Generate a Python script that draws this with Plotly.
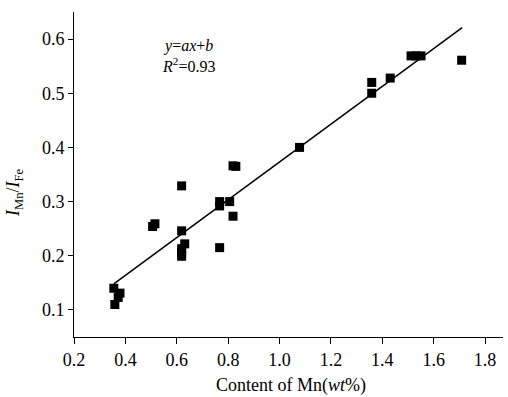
import plotly.graph_objects as go

# Data
mn_content = [0.355, 0.379, 0.372, 0.359,
              0.506, 0.515,
              0.619, 0.619, 0.631, 0.619, 0.619, 0.619,
              0.767, 0.767, 0.767, 0.806, 0.819,
              0.819, 0.830,
              1.078,
              1.359, 1.359, 1.431,
              1.512, 1.532, 1.551,
              1.709]
intensity_ratio = [0.140, 0.131, 0.123, 0.110,
                   0.254, 0.259,
                   0.329, 0.246, 0.222, 0.213, 0.206, 0.199,
                   0.300, 0.292, 0.215, 0.300, 0.273,
                   0.366, 0.365,
                   0.400,
                   0.520, 0.500, 0.528,
                   0.569, 0.569, 0.569,
                   0.561]

# Fitted line y = a*x + b, drawn over the data span
fit_a = 0.349
fit_b = 0.024
fit_x = [0.355, 1.711]
fit_y = [fit_a * v + fit_b for v in fit_x]

x_ticks = [0.2, 0.4, 0.6, 0.8, 1.0, 1.2, 1.4, 1.6, 1.8]
y_ticks = [0.1, 0.2, 0.3, 0.4, 0.5, 0.6]

FONT = "Liberation Serif, Times New Roman, serif"

W, H = 508, 397
ML, MR, MT, MB = 74, 5, 12, 60
PW, PH = W - ML - MR, H - MT - MB


def px_to_paper(px, py):
    return (px - ML) / PW, (H - MB - py) / PH


fig = go.Figure()
fig.add_trace(go.Scatter(x=fit_x, y=fit_y, mode="lines",
                         line=dict(color="black", width=1.5),
                         showlegend=False, hoverinfo="skip"))
fig.add_trace(go.Scatter(x=mn_content, y=intensity_ratio, mode="markers",
                         marker=dict(symbol="square", size=9, color="black"),
                         showlegend=False))

ytx, yty = px_to_paper(14, 192)
xtx, xty = px_to_paper(291, 385)
eqx, eqy = px_to_paper(188, 56)

fig.update_layout(
    width=W, height=H,
    margin=dict(l=ML, r=MR, t=MT, b=MB),
    paper_bgcolor="white", plot_bgcolor="white",
    font=dict(family=FONT, size=18, color="black"),
    xaxis=dict(range=[0.2, 1.87], tickvals=x_ticks,
               ticktext=[f"{v:.1f}" for v in x_ticks],
               showline=True, linecolor="black", linewidth=1,
               ticks="outside", ticklen=6, tickcolor="black",
               tickfont=dict(size=18),
               showgrid=False, zeroline=False),
    yaxis=dict(range=[0.05, 0.65], tickvals=y_ticks,
               ticktext=[f"{v:.1f}" for v in y_ticks],
               showline=True, linecolor="black", linewidth=1,
               ticks="outside", ticklen=5, tickcolor="black",
               tickfont=dict(size=18),
               showgrid=False, zeroline=False),
    annotations=[
        dict(x=ytx, y=yty, xref="paper", yref="paper", showarrow=False,
             text="<i>I</i><sub>Mn</sub>/<i>I</i><sub>Fe</sub>",
             textangle=-90, font=dict(size=18), xanchor="center",
             yanchor="middle"),
        dict(x=xtx, y=xty, xref="paper", yref="paper", showarrow=False,
             text="Content of Mn(<i>wt</i>%)", font=dict(size=18),
             xanchor="center", yanchor="middle"),
        dict(x=eqx, y=eqy, xref="paper", yref="paper", showarrow=False,
             text="<i>y</i>=<i>ax</i>+<i>b</i><br><i>R</i><sup>2</sup>=0.93",
             align="center", font=dict(size=16),
             xanchor="center", yanchor="middle"),
    ],
)

fig.write_html("out.html",
               config={"displayModeBar": False},
               post_script="document.body.style.margin='0';")
